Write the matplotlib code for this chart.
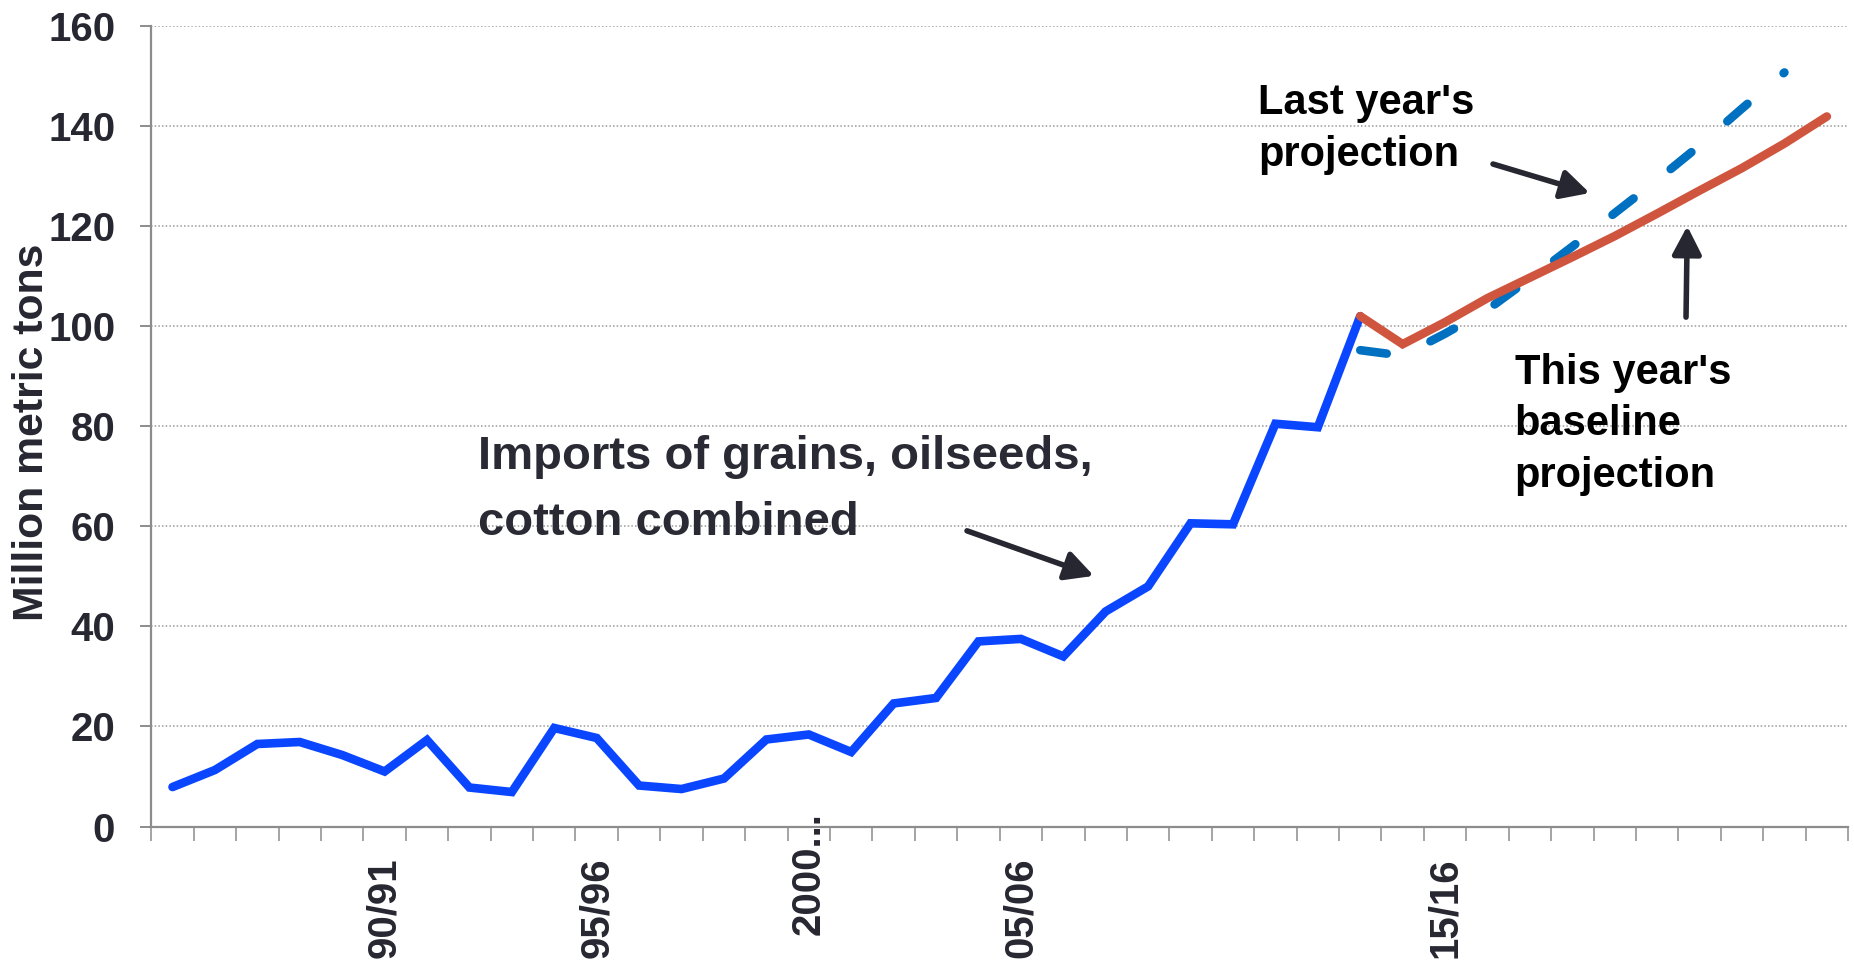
import numpy as np
import matplotlib.pyplot as plt
from matplotlib.transforms import ScaledTranslation

# China imports of grains, oilseeds and cotton, 1985/86 - 2024/25 (40 marketing years)
n_years = 40
# history, 1985/86 - 2013/14
imports = [7.9, 11.3, 16.5, 16.9, 14.3, 11.0, 17.3, 7.8, 6.9, 19.7, 17.7, 8.2, 7.5, 9.6,
           17.4, 18.4, 14.9, 24.6, 25.7, 37.0, 37.5, 34.0, 43.0, 48.0, 60.6, 60.4,
           80.5, 79.8, 102.0]
# this year's baseline, 2013/14 - 2024/25
baseline = [102.0, 96.4, 100.8, 105.6, 109.7, 113.8, 118.0, 122.5, 127.1, 131.6, 136.5, 141.9]
# last year's projection, 2013/14 - 2023/24
last_year = [95.2, 94.1, 98.5, 103.3, 109.5, 115.9, 122.6, 129.2, 136.1, 143.5, 150.7]

tick_idx = [5, 10, 15, 20, 30]
tick_labels = ["90/91", "95/96", "2000...", "05/06", "15/16"]

start_proj = len(imports) - 1

txt_col = "#272731"
axis_col = "#8c8c8c"
lw = 6.2

fig = plt.figure(figsize=(18.54, 9.6), dpi=100)
ax = fig.add_axes([0.0816, 0.139, 0.9152, 0.834])

ax.plot(np.arange(len(imports)), imports, color="#0a46ff", lw=lw,
        solid_joinstyle="miter", solid_capstyle="round", zorder=3)
ax.plot(np.arange(start_proj, start_proj + len(last_year)), last_year, color="#0070c0",
        lw=lw, linestyle=(0, (3.1, 5.5)), dash_capstyle="round", zorder=3)
ax.plot(np.arange(start_proj, start_proj + len(baseline)), baseline, color="#d0553e",
        lw=lw, solid_capstyle="round", solid_joinstyle="miter", zorder=4)

ax.set_xlim(-0.5, n_years - 0.5)
ax.set_ylim(0, 160)
ax.set_yticks(np.arange(0, 161, 20))
ax.yaxis.grid(True, color="#9a9a9a", lw=1.1, linestyle=(0, (1, 1.4)))
ax.set_axisbelow(True)

for s in ["top", "right"]:
    ax.spines[s].set_visible(False)
for s in ["left", "bottom"]:
    ax.spines[s].set_color(axis_col)
    ax.spines[s].set_linewidth(1.6)

# boundaries between years get the tick marks, labels sit in the middle
ax.set_xticks(np.arange(-0.5, n_years, 1), minor=True)
ax.set_xticks(tick_idx)
ax.set_xticklabels(tick_labels, rotation=90, va="top", ha="center")
ax.tick_params(axis="x", which="minor", length=10, width=1.1, color=axis_col)
ax.tick_params(axis="x", which="major", length=0, pad=22)
ax.tick_params(axis="y", length=8, width=1.4, color=axis_col, pad=18)
for lab in ax.get_xticklabels() + ax.get_yticklabels():
    lab.set_fontfamily("Liberation Sans")
    lab.set_fontweight("bold")
    lab.set_fontsize(29)
    lab.set_color(txt_col)
# the truncated label sits higher in the original
lab = ax.get_xticklabels()[2]
lab.set_transform(lab.get_transform() + ScaledTranslation(0, 0.45, fig.dpi_scale_trans))

ax.set_ylabel("Million metric tons", fontsize=30.8, fontweight="bold",
              family="Liberation Sans", color=txt_col, labelpad=0)
ax.yaxis.set_label_coords(-0.0585, 0.4925)

arrow = dict(arrowstyle="-|>,head_length=0.5,head_width=0.26", color=txt_col, lw=4,
             shrinkA=0, shrinkB=0, mutation_scale=34)

ax.text(7.2, 78.3, "Imports of grains, oilseeds,\ncotton combined", fontsize=34,
        fontweight="bold", family="Liberation Sans",
        color="#2a2a35", ha="left", va="top", linespacing=1.65)
ax.annotate("", xy=(21.72, 50.1), xytext=(18.73, 59.1), arrowprops=arrow)

ax.text(25.6, 148.6, "Last year's\nprojection", fontsize=30, fontweight="bold",
        family="Liberation Sans", color="black", ha="left", va="top", linespacing=1.38)
ax.annotate("", xy=(33.41, 126.6), xytext=(31.13, 132.4), arrowprops=arrow)

ax.text(31.64, 94.6, "This year's\nbaseline\nprojection", fontsize=30, fontweight="bold",
        family="Liberation Sans", color="black", ha="left", va="top", linespacing=1.36)
ax.annotate("", xy=(35.71, 120.0), xytext=(35.68, 101.8), arrowprops=arrow)

fig.savefig("out.png", dpi=100)
